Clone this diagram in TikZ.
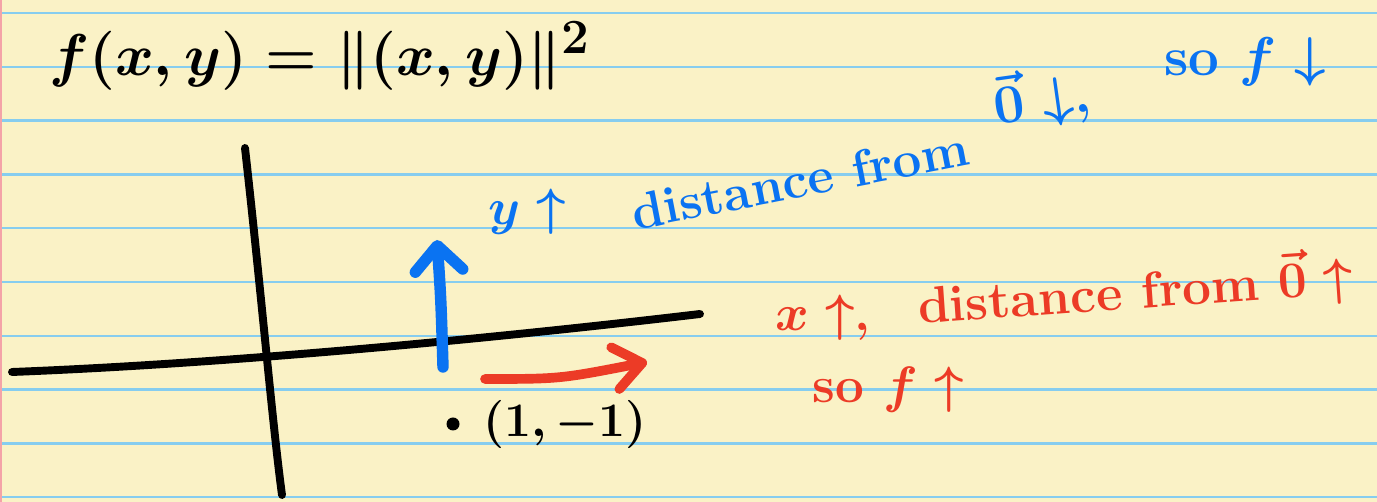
\documentclass[tikz,border=0pt]{standalone}
\usepackage{amsmath,amssymb}
\usepackage{graphicx}
\usepackage{xcolor}
\definecolor{paper}{HTML}{FAF2C6}
\definecolor{ruling}{HTML}{86CDEF}
\definecolor{margen}{HTML}{F4A3A8}
\definecolor{inkBlue}{HTML}{0A73F2}
\definecolor{inkRed}{HTML}{EC3B26}
\newcommand{\hand}[2][1.17]{\scalebox{#1}{#2}}
\usepackage{tikz}
\usetikzlibrary{arrows.meta}

\begin{document}
\begin{tikzpicture}[x=0.02cm,y=-0.02cm,
 ink/.style={line width=4.5pt,line cap=round,line join=round},
 note/.style={inner sep=0pt,font=\fontsize{24.88}{30}\selectfont\bfseries\boldmath},
 bluenote/.style={note,text=inkBlue},
 rednote/.style={note,text=inkRed},
 bluearr/.style={ink,draw=inkBlue,line width=6.5pt,
 -{Straight Barb[length=5mm,width=9.5mm,round]}},
 redarr/.style={ink,draw=inkRed,line width=5.5pt,
 -{Straight Barb[length=5.5mm,width=8.5mm,round]}}]
 \useasboundingbox (0,0) rectangle (1377,502);
 \fill[paper] (0,0) rectangle (1377,502);
 \foreach \k in {0,...,9}
 \draw[ruling,line width=1.3pt] (0,13+53.8*\k) -- (1377,13+53.8*\k);
 \draw[margen,line width=1.5pt] (1,0) -- (1,502);
 \node[note] (formula) at (320,56) {\hand[1.35]{$f(x,y) = \|(x,y)\|^2$}};
 \coordinate (yaxtop) at (245,148);
 \coordinate (yaxbot) at (282,495);
 \coordinate (xaxleft) at (12,372);
 \coordinate (xaxright) at (700,314);
 \draw[ink] (yaxtop) .. controls (262,300) and (272,420) .. (yaxbot);
 \draw[ink] (xaxleft) .. controls (220,364) and (480,340) .. (xaxright);
 \coordinate (ytail) at (443,367);
 \coordinate (ytip) at (437,240);
 \draw[bluearr] (ytail) .. controls (441,300) .. (ytip);
 \coordinate (xtail) at (485,379);
 \coordinate (xtip) at (647,362);
 \draw[redarr] (xtail) .. controls (560,379) .. (xtip);
 \fill (453,424) circle (6.5);
 \node[note] (point) at (565,424) {\hand[1.1]{$(1,-1)$}};
 \node[bluenote] (ylab) at (527,212) {\hand{$y\uparrow$}};
 \node[bluenote,rotate=11] (ydist) at (800,180) {\hand{distance from}};
 \node[bluenote,rotate=8] (yorig) at (1042,98) {\hand[1.25]{$\vec{0}\downarrow$,}};
 \node[bluenote] (yso) at (1245,62) {\hand[1.25]{so $f\downarrow$}};
 \node[rednote] (xlab) at (823,318) {\hand{$x\uparrow$,}};
 \node[rednote,rotate=4] (xdist) at (1135,290) {\hand{distance from $\vec{0}\uparrow$}};
 \node[rednote] (xso) at (888,390) {\hand{so $f\uparrow$}};
\end{tikzpicture}
\end{document}
